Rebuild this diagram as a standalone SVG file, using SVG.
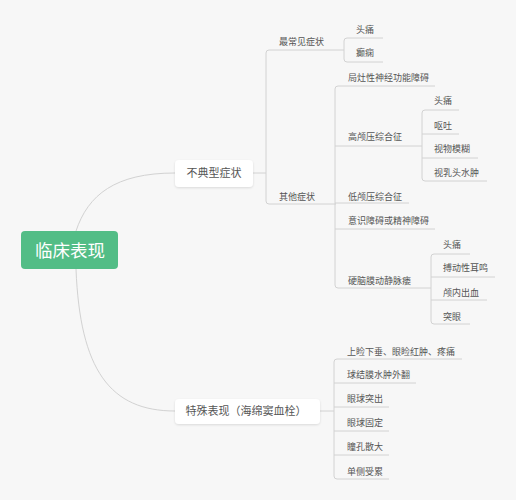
<svg xmlns="http://www.w3.org/2000/svg" width="516" height="500" viewBox="0 0 516 500">
<defs>
<filter id="sh" x="-20%" y="-30%" width="140%" height="170%">
<feDropShadow dx="0" dy="1" stdDeviation="1.2" flood-color="#000" flood-opacity="0.12"/>
</filter>
<style>
text{font-family:"Noto Sans CJK SC","Noto Sans",sans-serif;fill:#555}
.t{font-size:9px}
.m{font-size:11px;text-anchor:middle}
.r{font-size:17.5px;fill:#fff;text-anchor:middle}
.c{fill:none;stroke:#d2d2d2;stroke-width:1}
.box{fill:#fff;filter:url(#sh)}
</style>
</defs>
<rect width="516" height="500" fill="#f7f7f7"/>
<g id="connectors">
<path class="c" d="M76,231 C88,195 115,173 175,173"/>
<path class="c" d="M76,269 C80,370 110,411 175,411"/>
<path class="c" d="M253,173 H266"/>
<path class="c" d="M344,50 H269 Q266,50 266,53 V201 Q266,204 269,204 H336"/>
<path class="c" d="M383,38 H347 Q344,38 344,41 V59 Q344,62 347,62 H383"/>
<path class="c" d="M435,86 H338 Q335,86 335,89 V285 Q335,288 338,288 H431"/>
<path class="c" d="M335,146 H422"/>
<path class="c" d="M335,203 H409"/>
<path class="c" d="M335,229 H435"/>
<path class="c" d="M459,110 H425 Q422,110 422,113 V178 Q422,181 425,181 H487"/>
<path class="c" d="M422,134 H459"/>
<path class="c" d="M422,158 H478"/>
<path class="c" d="M470,254 H434 Q431,254 431,257 V321 Q431,324 434,324 H470"/>
<path class="c" d="M431,277 H495"/>
<path class="c" d="M431,300 H487"/>
<path class="c" d="M320,411 H334"/>
<path class="c" d="M462,359 H337 Q334,359 334,362 V476 Q334,479 337,479 H389"/>
<path class="c" d="M334,383 H416"/>
<path class="c" d="M334,407 H389"/>
<path class="c" d="M334,431 H389"/>
<path class="c" d="M334,455 H389"/>
</g>
<g id="root"><rect x="21" y="231" width="97" height="38" rx="4" fill="#52bd86"/><text class="r" x="70" y="256.5">临床表现</text></g>
<g id="n-atypical"><rect class="box" x="175" y="160" width="78" height="27" rx="4"/><text class="m" x="214" y="177.2">不典型症状</text></g>
<g id="n-special"><rect class="box" x="175" y="399" width="145" height="25" rx="4"/><text class="m" x="246" y="415.2">特殊表现（海绵窦血栓）</text></g>
<g id="n-common"><text class="t" x="279" y="45.4">最常见症状</text></g>
<g id="n-c1"><text class="t" x="356" y="33.4">头痛</text></g>
<g id="n-c2"><text class="t" x="356" y="56.4">癫痫</text></g>
<g id="n-other"><text class="t" x="279" y="200.4">其他症状</text></g>
<g id="n-o1"><text class="t" x="348" y="81.4">局灶性神经功能障碍</text></g>
<g id="n-o2"><text class="t" x="348" y="140.4">高颅压综合征</text></g>
<g id="n-o2a"><text class="t" x="434" y="104.4">头痛</text></g>
<g id="n-o2b"><text class="t" x="434" y="129.4">呕吐</text></g>
<g id="n-o2c"><text class="t" x="434" y="152.4">视物模糊</text></g>
<g id="n-o2d"><text class="t" x="434" y="176.4">视乳头水肿</text></g>
<g id="n-o3"><text class="t" x="348" y="200.4">低颅压综合征</text></g>
<g id="n-o4"><text class="t" x="348" y="224.4">意识障碍或精神障碍</text></g>
<g id="n-o5"><text class="t" x="348" y="284.4">硬脑膜动静脉瘘</text></g>
<g id="n-o5a"><text class="t" x="443" y="248.4">头痛</text></g>
<g id="n-o5b"><text class="t" x="443" y="271.4">搏动性耳鸣</text></g>
<g id="n-o5c"><text class="t" x="443" y="296.4">颅内出血</text></g>
<g id="n-o5d"><text class="t" x="443" y="320.4">突眼</text></g>
<g id="n-s1"><text class="t" x="347" y="355.4">上睑下垂、眼睑红肿、疼痛</text></g>
<g id="n-s2"><text class="t" x="347" y="378.4">球结膜水肿外翻</text></g>
<g id="n-s3"><text class="t" x="347" y="402.4">眼球突出</text></g>
<g id="n-s4"><text class="t" x="347" y="426.4">眼球固定</text></g>
<g id="n-s5"><text class="t" x="347" y="450.4">瞳孔散大</text></g>
<g id="n-s6"><text class="t" x="347" y="475.4">单侧受累</text></g>
</svg>
